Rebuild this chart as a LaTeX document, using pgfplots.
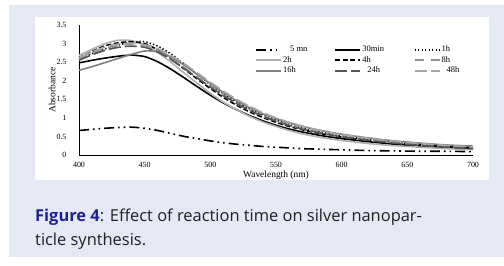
\documentclass[border=0pt]{standalone}
\usepackage{pgfplots}
\pgfplotsset{compat=1.18}
\usepackage{pgfplotstable}
\usepackage{fontspec}
\setmainfont{Liberation Serif}
\newfontfamily\capfont{Open Sans}
\definecolor{bgblue}{RGB}{229,233,245}
\definecolor{capblue}{RGB}{28,34,150}
\definecolor{lgray}{RGB}{176,176,176}
\definecolor{mgray}{RGB}{128,128,128}
\definecolor{dgray}{RGB}{85,85,85}
\definecolor{g8}{RGB}{145,145,145}
\definecolor{g48}{RGB}{166,166,166}

\pgfplotstableread{
wl   m5   m30  h1   h2   h4   h8   h16  h24  h48
400  0.66 2.48 2.60 2.68 2.62 2.58 2.28 2.55 2.62
410  0.69 2.55 2.73 2.85 2.79 2.74 2.38 2.70 2.78
420  0.72 2.61 2.86 3.00 2.94 2.87 2.49 2.82 2.91
430  0.74 2.66 2.96 3.09 3.02 2.95 2.60 2.90 2.99
440  0.75 2.69 3.04 3.08 3.05 2.98 2.71 2.93 3.01
450  0.72 2.65 3.05 2.96 3.00 2.95 2.80 2.90 2.97
460  0.66 2.51 2.93 2.76 2.83 2.81 2.78 2.77 2.86
470  0.58 2.31 2.72 2.50 2.59 2.60 2.64 2.57 2.68
480  0.50 2.08 2.45 2.21 2.32 2.35 2.42 2.33 2.46
490  0.44 1.84 2.17 1.93 2.05 2.09 2.17 2.08 2.21
500  0.38 1.61 1.90 1.66 1.79 1.84 1.92 1.83 1.96
510  0.33 1.40 1.65 1.42 1.55 1.60 1.68 1.60 1.72
520  0.29 1.22 1.43 1.22 1.34 1.38 1.46 1.39 1.50
530  0.26 1.06 1.24 1.04 1.16 1.20 1.27 1.20 1.31
540  0.23 0.92 1.08 0.89 1.01 1.04 1.11 1.05 1.14
550  0.21 0.80 0.94 0.77 0.88 0.91 0.98 0.91 1.00
560  0.19 0.70 0.82 0.66 0.77 0.80 0.87 0.80 0.88
570  0.17 0.62 0.72 0.57 0.68 0.70 0.77 0.70 0.78
580  0.16 0.55 0.64 0.50 0.60 0.62 0.69 0.62 0.69
590  0.15 0.49 0.57 0.44 0.54 0.55 0.62 0.55 0.61
600  0.14 0.44 0.51 0.39 0.48 0.49 0.56 0.49 0.55
620  0.12 0.36 0.42 0.31 0.39 0.40 0.46 0.40 0.45
640  0.11 0.29 0.35 0.25 0.32 0.33 0.38 0.32 0.37
660  0.10 0.24 0.29 0.21 0.27 0.27 0.32 0.26 0.31
680  0.10 0.20 0.25 0.17 0.23 0.23 0.27 0.21 0.26
700  0.09 0.17 0.21 0.14 0.20 0.20 0.24 0.17 0.22
}\spectra

\begin{document}
\begin{tikzpicture}
\useasboundingbox (0,0) rectangle (504bp,266bp);
\fill[white] (0,0) rectangle (504bp,266bp);
\fill[bgblue] (9bp,9bp) rectangle (504bp,261bp);
\fill[white] (35bp,86bp) rectangle (489bp,249bp);
\begin{axis}[
  at={(79bp,111bp)}, anchor=south west,
  width=394bp, height=130bp, scale only axis,
  xmin=400, xmax=700, ymin=0, ymax=3.5,
  axis lines=left,
  axis line style={-, black, line width=0.7bp},
  xtick={400,450,...,700}, ytick={0,0.5,...,3.5},
  major tick length=0pt,
  /pgf/number format/assume math mode=true,
  tick label style={font=\fontsize{8}{9}\selectfont},
  yticklabel style={/pgf/number format/fixed, xshift=-9bp},
  xticklabel style={/pgf/number format/set thousands separator={}, yshift=-4bp},
  xlabel={Wavelength (nm)}, ylabel={Absorbance},
  label style={font=\fontsize{9.5}{10}\selectfont},
  x label style={at={(axis description cs:0.5,-0.154)}, anchor=center},
  y label style={at={(axis description cs:-0.0685,0.5)}, anchor=center},
  clip=false,
  legend columns=3,
  legend cell align=left,
  legend image code/.code={\draw[line width=1.8bp,#1] (0bp,0bp) -- (25bp,0bp);},
  legend style={draw=none, fill=none, inner sep=0pt,
    at={(axis description cs:0.4467,0.85)}, anchor=north west,
    font=\fontsize{8.5}{9}\selectfont,
    nodes={inner sep=1.2bp, text height=6bp, text depth=2bp},
    row sep=0pt, column sep=0pt},
  every axis plot/.append style={line width=1.6bp, smooth, tension=0.4},
]
\addplot[black, dash pattern=on 10bp off 4bp on 1.6bp off 4bp on 1.6bp off 4bp] table[x=wl,y=m5] {\spectra};
\addlegendentry{\makebox[50bp][l]{\hspace{7bp}5 mn}}
\addplot[black] table[x=wl,y=m30] {\spectra};
\addlegendentry{\makebox[50bp][l]{30min}}
\addplot[black, dash pattern=on 1.3bp off 2.2bp] table[x=wl,y=h1] {\spectra};
\addlegendentry{\makebox[50bp][l]{1h}}
\addplot[lgray] table[x=wl,y=h2] {\spectra};
\addlegendentry{\makebox[50bp][l]{2h}}
\addplot[black, dash pattern=on 5bp off 2.5bp] table[x=wl,y=h4] {\spectra};
\addlegendentry{\makebox[50bp][l]{4h}}
\addplot[g8, dash pattern=on 9bp off 7bp] table[x=wl,y=h8] {\spectra};
\addlegendentry{\makebox[50bp][l]{8h}}
\addplot[mgray] table[x=wl,y=h16] {\spectra};
\addlegendentry{\makebox[50bp][l]{16h}}
\addplot[dgray, dash pattern=on 12bp off 4bp] table[x=wl,y=h24] {\spectra};
\addlegendentry{\makebox[50bp][l]{\hspace{5bp}24h}}
\addplot[g48, dash pattern=on 12bp off 4bp] table[x=wl,y=h48] {\spectra};
\addlegendentry{\makebox[50bp][l]{\hspace{5bp}48h}}
\end{axis}
\node[anchor=base west, inner sep=0pt, text=black!88, font=\capfont\fontsize{16.5}{18}\selectfont]
  at (35bp,44.5bp) {\textbf{\color{capblue}Figure 4}: Effect of reaction time on silver nanopar-};
\node[anchor=base west, inner sep=0pt, text=black!88, font=\capfont\fontsize{16.5}{18}\selectfont]
  at (35bp,20.5bp) {ticle synthesis.};
\end{tikzpicture}
\end{document}
